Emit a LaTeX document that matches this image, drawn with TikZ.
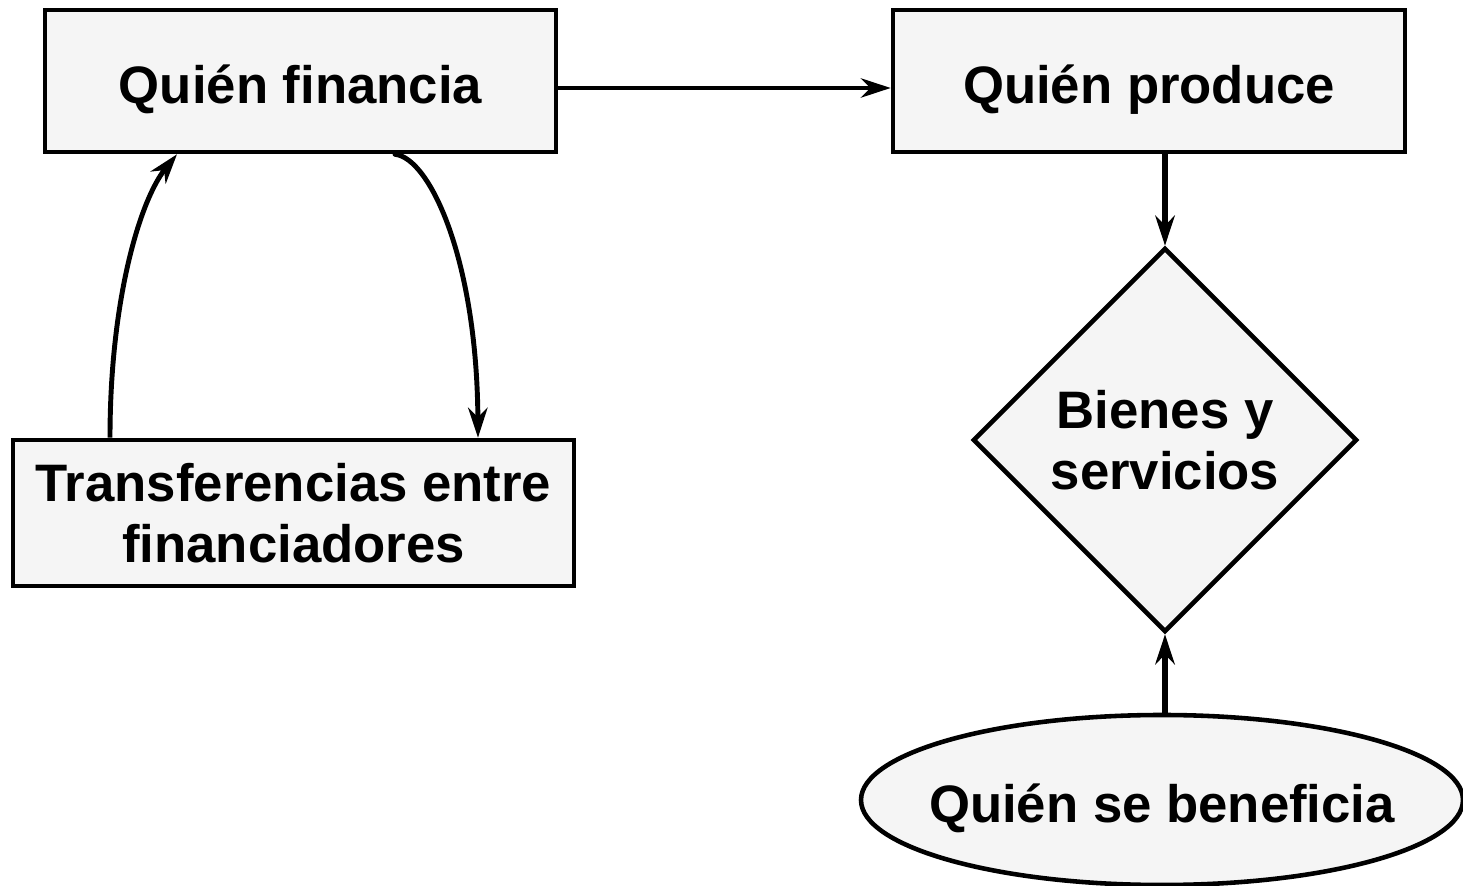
\documentclass[tikz,border=0pt]{standalone}
\usepackage{fontspec}
\setmainfont{Liberation Sans}
\usepackage{tikz}
\usetikzlibrary{calc,arrows.meta,shapes.geometric}
\definecolor{boxfill}{HTML}{F5F5F5}
\tikzset{
  caja/.style={draw,fill=boxfill,line width=1.3pt,inner sep=0pt,align=center,font=\fontsize{15}{17.3}\selectfont\bfseries},
  bajar/.style={text height=13pt,text depth=0pt},
  flecha/.style={line width=1.3pt,-{Stealth[length=8.5pt,width=5.5pt,inset=2.7pt]}}
}
\begin{document}
\begin{tikzpicture}
                      \useasboundingbox (0,0) rectangle (14.63,8.86);
                      \node[caja,bajar,minimum width=5.11cm,minimum height=1.42cm](fin)at(3.005,8.05){Quién financia};
                      \node[caja,bajar,minimum width=5.12cm,minimum height=1.42cm](prod)at(11.49,8.05){Quién produce};
                      \node[caja,minimum width=5.61cm,minimum height=1.46cm](trans)at(2.935,3.73){Transferencias entre\\financiadores};
                      \node[caja,diamond,minimum width=3.84cm,minimum height=3.84cm](bien)at(11.65,4.46){Bienes y\\servicios};
                      \node[caja,bajar,ellipse,inner xsep=-0.3cm,minimum width=6.02cm,minimum height=1.70cm](benef)at(11.62,0.86){Quién se beneficia};
                      \draw[flecha]($(fin.east)+(0,-0.07)$)--($(prod.west)+(0,-0.07)$);
                      \draw[flecha,line width=1.4pt](trans.north -| 1.10,0).. controls (1.10,5.86) and (1.40,6.86) ..(fin.south -| 1.77,0);
                      \draw[flecha,line width=1.4pt,line cap=round](fin.south -| 3.95,0).. controls (4.30,7.28) and (4.77,6.26) ..(trans.north -| 4.78,0);
                      \draw[flecha,line width=1.7pt](prod.south -| bien.north)--(bien.north);
                      \draw[flecha,line width=1.7pt](benef.north -| bien.south)--(bien.south);
                  \end{tikzpicture}
\end{document}
